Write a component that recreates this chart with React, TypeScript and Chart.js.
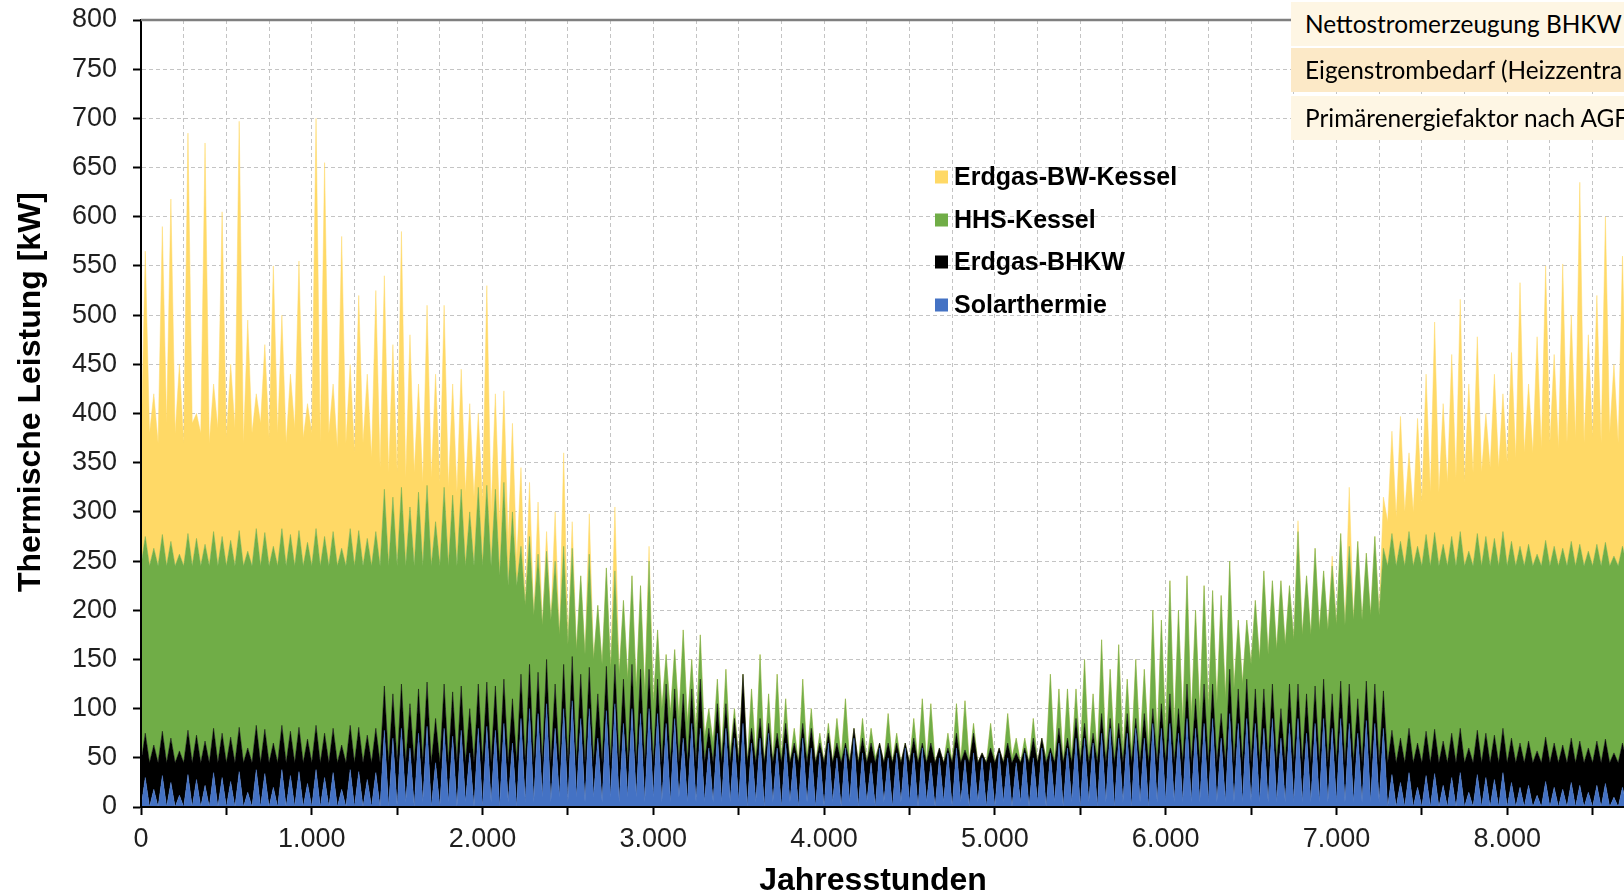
import React, { useEffect, useRef } from "react";
import { Chart, registerables } from "chart.js";

Chart.register(...registerables);

// Sample spacing of the hourly series (hours per point); each row below covers 500 h
const STEP_HOURS = 25;

// Solarthermie [kW]
const SOLAR = [
  0, 30, 0, 18, 0, 32, 0, 25, 0, 12, 0, 33, 0, 28, 0, 22, 0, 35, 0, 30,
  0, 26, 0, 36, 0, 15, 0, 38, 0, 34, 0, 20, 0, 38, 0, 32, 0, 36, 0, 24,
  0, 38, 0, 30, 0, 35, 0, 18, 0, 38, 0, 36, 0, 28, 0, 35, 0, 78, 0, 70,
  0, 80, 5, 60, 0, 75, 5, 82, 0, 45, 0, 80, 5, 72, 0, 78, 5, 55, 0, 80,
  0, 82, 5, 78, 0, 85, 5, 65, 0, 90, 5, 100, 5, 95, 10, 105, 5, 80, 10, 100,
  5, 108, 10, 90, 5, 100, 10, 70, 5, 98, 10, 105, 5, 85, 10, 100, 10, 95, 5, 100,
  10, 95, 5, 85, 5, 90, 10, 70, 5, 85, 5, 80, 5, 60, 5, 75, 5, 80, 5, 70,
  5, 85, 0, 65, 5, 70, 0, 75, 5, 60, 0, 65, 5, 55, 0, 70, 5, 60, 0, 55,
  0, 65, 5, 50, 0, 60, 5, 70, 0, 55, 5, 45, 0, 60, 5, 50, 0, 55, 5, 60,
  5, 55, 0, 60, 5, 45, 0, 50, 5, 55, 0, 60, 5, 48, 0, 55, 5, 50, 0, 45,
  0, 55, 5, 50, 0, 45, 5, 55, 0, 50, 5, 60, 0, 55, 5, 65, 0, 60, 5, 70,
  0, 70, 5, 65, 0, 75, 5, 80, 0, 70, 5, 75, 0, 80, 5, 70, 0, 85, 5, 80,
  5, 85, 5, 75, 5, 90, 5, 80, 5, 85, 5, 90, 5, 70, 5, 95, 5, 85, 5, 90,
  5, 85, 5, 80, 5, 90, 5, 70, 5, 85, 5, 90, 5, 75, 5, 85, 5, 90, 5, 80,
  5, 90, 5, 85, 5, 75, 5, 88, 5, 85, 5, 80, 0, 33, 0, 25, 0, 35, 0, 20,
  0, 32, 0, 34, 0, 22, 0, 30, 0, 35, 0, 15, 0, 33, 0, 30, 0, 28, 0, 35,
  0, 25, 0, 20, 0, 22, 0, 12, 0, 26, 0, 20, 0, 18, 0, 25, 0, 22, 0, 15,
  0, 22, 0, 24, 0, 10, 0, 20, 0, 18, 0,
];

// Erdgas-BHKW [kW]
const BHKW = [
  45, 45, 45, 45, 45, 45, 45, 45, 45, 45, 45, 45, 45, 45, 45, 45, 45, 45, 45, 45,
  45, 45, 45, 45, 45, 45, 45, 45, 45, 45, 45, 45, 45, 45, 45, 45, 45, 45, 45, 45,
  45, 45, 45, 45, 45, 45, 45, 45, 45, 45, 45, 45, 45, 45, 45, 45, 45, 45, 45, 45,
  45, 45, 40, 45, 45, 45, 40, 45, 45, 45, 45, 45, 40, 45, 45, 45, 40, 45, 45, 45,
  45, 45, 40, 45, 45, 45, 40, 45, 45, 45, 40, 45, 40, 42, 35, 45, 40, 45, 35, 45,
  40, 45, 35, 45, 40, 42, 35, 45, 40, 45, 35, 40, 40, 45, 35, 45, 35, 45, 40, 40,
  35, 35, 40, 40, 40, 30, 35, 45, 40, 35, 40, 50, 40, 20, 40, 30, 40, 25, 40, 20,
  40, 50, 45, 15, 40, 20, 45, 10, 40, 15, 45, 20, 40, 10, 45, 15, 40, 20, 45, 10,
  45, 10, 40, 15, 45, 5, 40, 10, 45, 15, 40, 20, 45, 5, 40, 15, 45, 10, 40, 5,
  40, 15, 45, 5, 40, 20, 45, 10, 40, 5, 45, 15, 40, 10, 45, 20, 40, 5, 45, 15,
  45, 5, 40, 15, 45, 10, 40, 5, 45, 20, 40, 10, 45, 5, 40, 15, 45, 10, 40, 20,
  45, 15, 40, 10, 45, 20, 40, 10, 45, 15, 40, 20, 45, 10, 40, 25, 45, 15, 40, 25,
  40, 30, 40, 25, 40, 35, 40, 30, 40, 40, 40, 35, 40, 25, 40, 45, 40, 35, 40, 40,
  40, 35, 40, 40, 40, 35, 40, 30, 40, 40, 40, 35, 40, 40, 40, 38, 40, 40, 40, 35,
  40, 38, 40, 40, 40, 35, 40, 40, 40, 40, 40, 38, 45, 45, 45, 45, 45, 45, 45, 45,
  45, 45, 45, 45, 45, 45, 45, 45, 45, 45, 45, 45, 45, 45, 45, 45, 45, 45, 45, 45,
  45, 45, 45, 45, 45, 45, 45, 45, 45, 45, 45, 45, 45, 45, 45, 45, 45, 45, 45, 45,
  45, 45, 45, 45, 45, 45, 45, 45, 45, 45, 45,
];

// HHS-Kessel [kW]
const HHS = [
  200, 200, 200, 200, 200, 200, 200, 200, 200, 200, 200, 200, 200, 200, 200, 200, 200, 200, 200, 200,
  200, 200, 200, 200, 200, 200, 200, 200, 200, 200, 200, 200, 200, 200, 200, 200, 200, 200, 200, 200,
  200, 200, 200, 200, 200, 200, 200, 200, 200, 200, 200, 200, 200, 200, 200, 200, 200, 200, 200, 200,
  200, 200, 200, 200, 200, 200, 200, 200, 200, 200, 200, 200, 200, 200, 200, 200, 200, 200, 200, 200,
  200, 200, 200, 200, 190, 200, 180, 190, 180, 130, 160, 130, 150, 120, 140, 110, 145, 125, 130, 120,
  120, 110, 115, 100, 110, 115, 105, 90, 100, 100, 95, 95, 90, 80, 85, 90, 75, 85, 70, 110,
  60, 50, 55, 30, 50, 40, 45, 65, 40, 30, 30, 45, 25, 20, 20, 25, 10, 35, 10, 10,
  5, 0, 0, 40, 5, 65, 0, 30, 0, 60, 5, 25, 0, 15, 0, 45, 5, 20, 0, 10,
  0, 10, 0, 25, 5, 45, 0, 0, 0, 20, 0, 15, 5, 0, 0, 30, 0, 10, 0, 0,
  0, 20, 0, 45, 0, 40, 0, 0, 0, 15, 0, 30, 0, 50, 0, 10, 0, 0, 0, 25,
  0, 0, 0, 30, 5, 15, 0, 10, 0, 20, 0, 0, 5, 75, 0, 40, 0, 50, 5, 30,
  5, 65, 5, 40, 5, 75, 5, 50, 10, 80, 10, 35, 10, 60, 15, 45, 15, 100, 20, 85,
  30, 115, 35, 100, 40, 110, 45, 90, 50, 100, 55, 95, 60, 120, 65, 110, 75, 70, 80, 60,
  100, 90, 105, 120, 110, 105, 115, 130, 120, 100, 125, 155, 130, 120, 130, 140, 135, 110, 135, 130,
  140, 150, 140, 140, 145, 160, 145, 130, 150, 150, 150, 145, 200, 200, 200, 200, 200, 200, 200, 200,
  200, 200, 200, 200, 200, 200, 200, 200, 200, 200, 200, 200, 200, 200, 200, 200, 200, 200, 200, 200,
  200, 200, 200, 200, 200, 200, 200, 200, 200, 200, 200, 200, 200, 200, 200, 200, 200, 200, 200, 200,
  200, 200, 200, 200, 200, 200, 200, 200, 200, 200, 200,
];

// Erdgas-BW-Kessel [kW]
const GAS = [
  115, 290, 135, 157, 125, 313, 145, 348, 135, 193, 125, 407, 145, 127, 135, 408, 125, 150, 140, 330,
  130, 179, 140, 416, 125, 235, 135, 137, 145, 191, 130, 285, 135, 217, 125, 163, 140, 274, 130, 141,
  135, 417, 125, 380, 135, 150, 120, 317, 125, 167, 115, 239, 125, 167, 110, 245, 100, 217, 95, 155,
  95, 260, 90, 175, 95, 110, 85, 183, 90, 150, 85, 185, 80, 113, 75, 122, 75, 110, 70, 75,
  65, 203, 55, 97, 55, 93, 45, 90, 25, 80, 0, 55, 0, 53, 0, 20, 0, 50, 0, 95,
  0, 27, 0, 0, 0, 41, 0, 0, 0, 0, 0, 65, 0, 0, 0, 0, 0, 0, 0, 15,
  0, 0, 0, 0, 0, 0, 0, 0, 0, 0, 0, 0, 0, 0, 0, 0, 0, 0, 0, 0,
  0, 0, 0, 0, 0, 0, 0, 0, 0, 0, 0, 0, 0, 0, 0, 0, 0, 0, 0, 0,
  0, 0, 0, 0, 0, 0, 0, 0, 0, 0, 0, 0, 0, 0, 0, 0, 0, 0, 0, 0,
  0, 0, 0, 0, 0, 0, 0, 0, 0, 0, 0, 0, 0, 0, 0, 0, 0, 0, 0, 0,
  0, 0, 0, 0, 0, 0, 0, 0, 0, 0, 0, 0, 0, 0, 0, 0, 0, 0, 0, 0,
  0, 0, 0, 0, 0, 0, 0, 0, 0, 0, 0, 0, 0, 0, 0, 0, 0, 0, 0, 0,
  0, 0, 0, 0, 0, 0, 0, 0, 0, 0, 0, 0, 0, 0, 0, 0, 0, 0, 0, 0,
  0, 0, 0, 0, 0, 0, 0, 0, 0, 0, 0, 11, 0, 0, 0, 0, 0, 0, 0, 10,
  0, 0, 0, 60, 0, 0, 0, 0, 0, 0, 0, 52, 45, 104, 50, 127, 55, 80, 55, 130,
  65, 163, 75, 214, 75, 143, 85, 185, 90, 236, 85, 170, 95, 200, 95, 125, 100, 167, 100, 140,
  105, 192, 110, 268, 115, 163, 115, 221, 120, 279, 125, 195, 120, 289, 125, 230, 130, 368, 125, 220,
  130, 253, 125, 331, 135, 195, 125, 295, 130, 237, 125,
];

const HOURS = SOLAR.map((_, i) => i * STEP_HOURS);

const SERIES_LABELS = ["Solarthermie", "Erdgas-BHKW", "HHS-Kessel", "Erdgas-BW-Kessel"];
const SERIES_COLORS = ["#4472C4", "#000000", "#70AD47", "#FFD966"];

const X_MAX = 8760;
const X_GRID_STEP = 250;
const X_TICK_STEP = 500;
const X_LABEL_STEP = 1000;
const Y_MAX = 800;
const Y_STEP = 50;

const X_TITLE = "Jahresstunden";
const Y_TITLE = "Thermische Leistung [kW]";

const INFO_ROWS = [
  "Nettostromerzeugung BHKW",
  "Eigenstrombedarf (Heizzentrale)",
  "Primärenergiefaktor nach AGFW",
];

const FONT = "'Liberation Sans', Arial, sans-serif";

const isMultiple = (v: number, m: number) => Math.abs(v / m - Math.round(v / m)) < 1e-6;
const fmtDE = (v: number) => Math.round(v).toLocaleString("de-DE");

const overlayPlugin = {
  id: "overlay",
  afterDraw(chart: any) {
    const ctx = chart.ctx as CanvasRenderingContext2D;
    const { left, top, bottom } = chart.chartArea;
    ctx.save();
    // top frame line
    ctx.strokeStyle = "#7f7f7f";
    ctx.lineWidth = 2.5;
    ctx.beginPath();
    ctx.moveTo(left, top);
    ctx.lineTo(1292, top);
    ctx.stroke();

    // legend (reverse stacking order)
    const legendX = 935;
    const legendY = [177, 220, 262, 305];
    ctx.font = `bold 25px ${FONT}`;
    ctx.textBaseline = "middle";
    ctx.textAlign = "left";
    const ds = chart.data.datasets;
    for (let k = 0; k < ds.length; k++) {
      const d = ds[ds.length - 1 - k];
      const y = legendY[k];
      ctx.fillStyle = d.backgroundColor;
      ctx.fillRect(legendX, y - 6.5, 13, 13);
      ctx.fillStyle = "#000";
      ctx.fillText(d.label, legendX + 19, y + 1);
    }

    // axis titles
    ctx.fillStyle = "#000";
    ctx.font = `bold 32px ${FONT}`;
    ctx.textAlign = "center";
    ctx.fillText(X_TITLE, 873, bottom + 74);
    ctx.translate(31, 392);
    ctx.rotate(-Math.PI / 2);
    ctx.font = `bold 32px ${FONT}`;
    ctx.fillText(Y_TITLE, 0, 0);
    ctx.restore();
  },
};

export default function App() {
  const ref = useRef<HTMLCanvasElement>(null);

  useEffect(() => {
    const canvas = ref.current;
    if (!canvas) return;
    Chart.defaults.font.family = FONT;

    const series = [SOLAR, BHKW, HHS, GAS];
    const datasets = series.map((vals, i) => ({
      label: SERIES_LABELS[i],
      data: HOURS.map((h, k) => ({ x: h, y: vals[k] })),
      backgroundColor: SERIES_COLORS[i],
      borderColor: SERIES_COLORS[i],
      borderWidth: 0.5,
      pointRadius: 0,
      tension: 0,
      fill: i === 0 ? "origin" : "-1",
    }));

    const xTicks: { value: number }[] = [];
    for (let v = 0; v <= X_MAX; v += X_GRID_STEP) xTicks.push({ value: v });

    const chart = new Chart(canvas, {
      type: "line",
      data: { datasets: datasets as any },
      options: {
        responsive: false,
        animation: false,
        layout: { padding: { top: 20, right: 13, left: 0, bottom: 0 } },
        plugins: { legend: { display: false }, tooltip: { enabled: false } },
        scales: {
          x: {
            type: "linear",
            min: 0,
            max: X_MAX,
            afterBuildTicks: (s: any) => {
              s.ticks = xTicks.map((t) => ({ value: t.value }));
            },
            afterFit: (s: any) => {
              s.height = 89;
            },
            ticks: {
              autoSkip: false,
              maxRotation: 0,
              padding: 8,
              color: "#1f1f1f",
              font: { size: 27 },
              callback: (v: any) => (isMultiple(Number(v), X_LABEL_STEP) ? fmtDE(Number(v)) : ""),
            },
            grid: {
              color: "#c4c4c4",
              lineWidth: 1,
              tickLength: 8,
              tickWidth: 2,
              tickColor: (c: any) =>
                c.tick && isMultiple(c.tick.value, X_TICK_STEP) ? "#000" : "rgba(0,0,0,0)",
            },
            border: { display: true, color: "#000", width: 2, dash: [4, 3], z: 1 },
          },
          y: {
            stacked: true,
            min: 0,
            max: Y_MAX,
            afterFit: (s: any) => {
              s.width = 141;
              s.paddingTop = 0;
              s.paddingBottom = 0;
            },
            ticks: {
              stepSize: Y_STEP,
              maxTicksLimit: 1000,
              padding: 16,
              color: "#1f1f1f",
              font: { size: 27 },
            },
            grid: {
              color: "#c4c4c4",
              lineWidth: 1,
              tickLength: 8,
              tickWidth: 2,
              tickColor: "#000",
            },
            border: { display: true, color: "#000", width: 2, dash: [4, 3], z: 1 },
          },
        },
      },
      plugins: [overlayPlugin],
    });
    return () => chart.destroy();
  }, []);

  const rowColors = ["#FEF6E4", "#FCE9C7", "#FEF6E4"];
  const rowTops = [2, 48, 96];

  return (
    <div
      style={{
        position: "fixed",
        left: 0,
        top: 0,
        width: 1624,
        height: 896,
        overflow: "hidden",
        background: "#fff",
      }}
    >
      <canvas ref={ref} width={1650} height={896} style={{ display: "block", width: 1650, height: 896 }} />
      {INFO_ROWS.map((t, i) => (
        <div
          key={t}
          style={{
            position: "absolute",
            left: 1291,
            top: rowTops[i],
            width: 420,
            height: 44,
            background: rowColors[i],
            fontFamily: "Lato, 'Open Sans', sans-serif",
            fontSize: 24.4,
            lineHeight: "44px",
            paddingLeft: 14,
            boxSizing: "border-box",
            whiteSpace: "nowrap",
            color: "#000",
          }}
        >
          {t}
        </div>
      ))}
    </div>
  );
}
